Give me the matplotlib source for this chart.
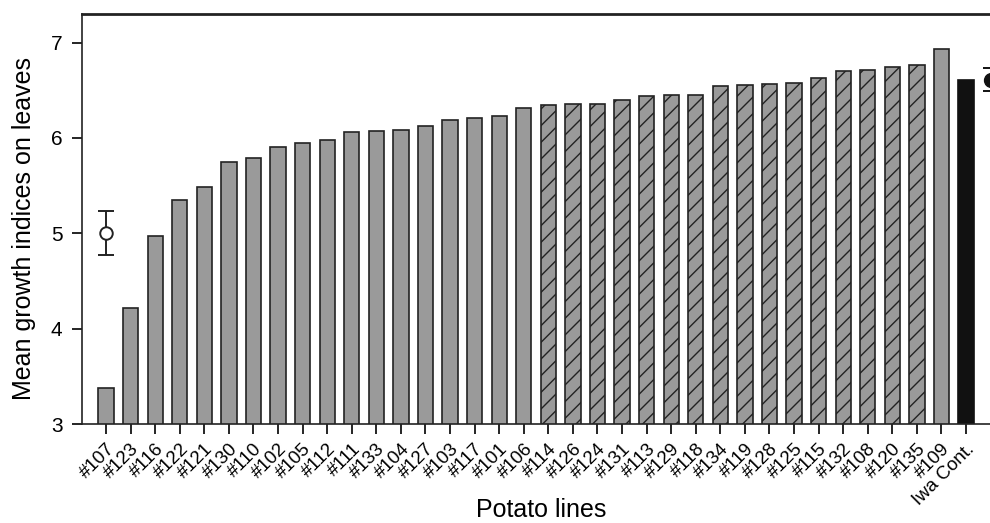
import matplotlib
matplotlib.use("Agg")
import matplotlib.pyplot as plt
import numpy as np

plt.rcParams['font.family'] = ['Liberation Sans', 'DejaVu Sans']
plt.rcParams['hatch.linewidth'] = 1.0

lines = ["#107", "#123", "#116", "#122", "#121", "#130", "#110", "#102", "#105",
         "#112", "#111", "#133", "#104", "#127", "#103", "#117", "#101", "#106",
         "#114", "#126", "#124", "#131", "#113", "#129", "#118", "#134", "#119",
         "#128", "#125", "#115", "#132", "#108", "#120", "#135", "#109", "Iwa Cont."]
values = [3.38, 4.22, 4.97, 5.35, 5.49, 5.75, 5.79, 5.90, 5.95,
          5.98, 6.06, 6.07, 6.08, 6.13, 6.19, 6.21, 6.23, 6.31,
          6.35, 6.36, 6.36, 6.40, 6.44, 6.45, 6.45, 6.55, 6.56,
          6.57, 6.58, 6.63, 6.70, 6.71, 6.74, 6.77, 6.93, 6.61]
# bar style group: 'plain', 'hatched', 'control'
groups = ["plain"] * 18 + ["hatched"] * 16 + ["plain", "control"]

# reference markers (mean +/- error)
open_pt_x, open_pt_y, open_pt_err = 0, 5.00, 0.23
filled_pt_x, filled_pt_y, filled_pt_err = 36, 6.61, 0.12

fig = plt.figure(figsize=(9.9, 5.23), dpi=100)
W, H = 990, 523
left, right, top, bottom = 82, 1000, 14, 424
ax = fig.add_axes([left / W, 1 - bottom / H, (right - left) / W, (bottom - top) / H])

x = np.arange(len(lines))
for xi, v, g in zip(x, values, groups):
    if g == "plain":
        ax.bar(xi, v, width=0.62, color="#9a9a9a", edgecolor="#222222", linewidth=1.2, zorder=2)
    elif g == "hatched":
        ax.bar(xi, v, width=0.62, color="#9a9a9a", edgecolor="#222222", linewidth=1.2,
               hatch="//", zorder=2)
    else:
        ax.bar(xi, v, width=0.62, color="#111111", edgecolor="#111111", linewidth=1.2, zorder=2)

ax.errorbar([open_pt_x], [open_pt_y], yerr=[open_pt_err], fmt="o", mfc="white",
            mec="#222222", ecolor="#222222", ms=9, mew=1.4, capsize=6, capthick=1.4,
            elinewidth=1.4, zorder=3)
ax.errorbar([filled_pt_x], [filled_pt_y], yerr=[filled_pt_err], fmt="o", mfc="#111111",
            mec="#111111", ecolor="#111111", ms=10, capsize=6, capthick=1.4,
            elinewidth=1.4, zorder=3, clip_on=False)

ax.set_xlim(-0.98, (right - left) / 24.57 - 0.98)
ax.set_ylim(3, 7.3)
ax.set_yticks([3, 4, 5, 6, 7])
ax.set_xticks(x)
ax.set_xticklabels(lines, rotation=45, ha="right", rotation_mode="anchor", fontsize=13.5)
ax.tick_params(axis="y", labelsize=15, length=7, width=1.2, pad=7, direction="out")
ax.tick_params(axis="x", length=7, width=1.2, pad=5, direction="out")

ax.spines["right"].set_visible(False)
ax.spines["top"].set_linewidth(2.0)
ax.spines["left"].set_linewidth(1.2)
ax.spines["bottom"].set_linewidth(1.2)
for s in ax.spines.values():
    s.set_color("#222222")

axw, axh = right - left, bottom - top
ax.set_ylabel("Mean growth indices on leaves", fontsize=18)
ax.yaxis.set_label_coords((36 - left) / axw, 1 - (228 - top) / axh)
ax.set_xlabel("Potato lines", fontsize=18)
ax.xaxis.set_label_coords((541 - left) / axw, -(498 - bottom) / axh)

fig.savefig("out.png", dpi=100)
